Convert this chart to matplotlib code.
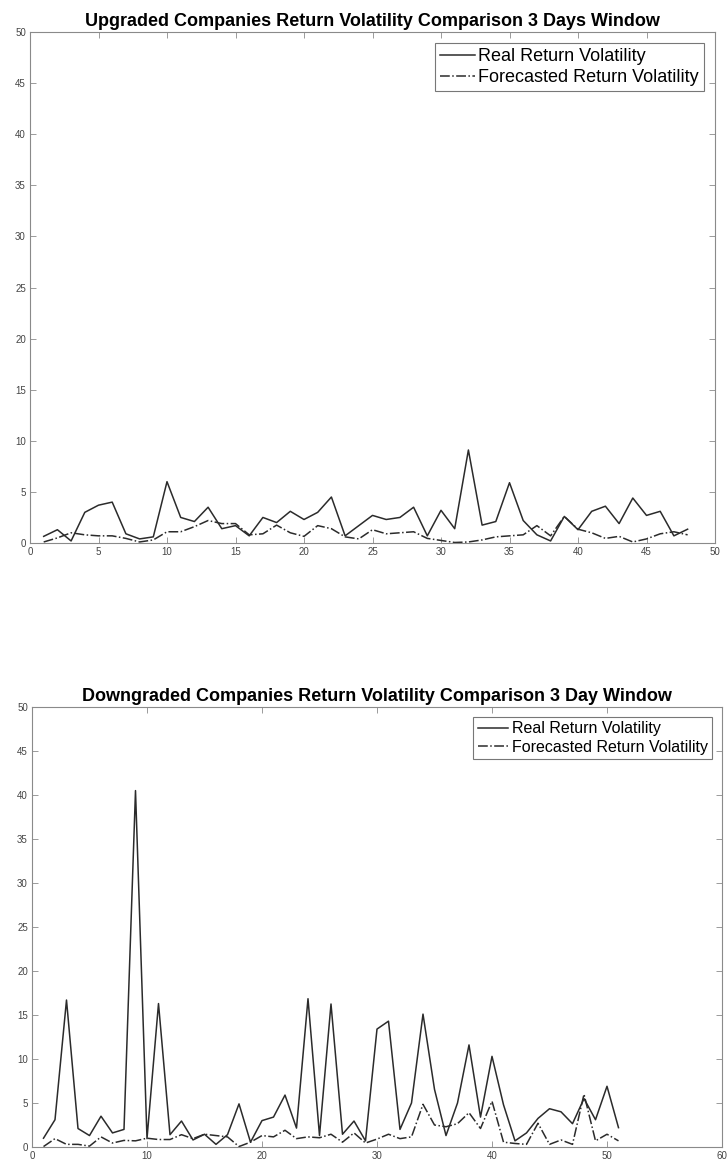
import matplotlib
matplotlib.use("Agg")
import matplotlib.pyplot as plt
import numpy as np

# Upgraded companies (3 days window)
up_real = [0.65, 1.3, 0.2, 3.0, 3.7, 4.0, 0.9, 0.4, 0.6, 6.0,
           2.5, 2.1, 3.5, 1.4, 1.7, 0.7, 2.5, 2.0, 3.1, 2.3,
           3.0, 4.5, 0.7, 1.7, 2.7, 2.3, 2.5, 3.5, 0.7, 3.2,
           1.4, 9.1, 1.75, 2.1, 5.9, 2.2, 0.8, 0.2, 2.6, 1.3,
           3.1, 3.6, 1.9, 4.4, 2.7, 3.1, 0.7, 1.35]
up_fore = [0.1, 0.5, 1.0, 0.8, 0.7, 0.7, 0.45, 0.1, 0.3, 1.1,
           1.1, 1.6, 2.2, 1.9, 1.9, 0.8, 0.9, 1.75, 1.0, 0.65,
           1.7, 1.4, 0.6, 0.4, 1.3, 0.9, 1.0, 1.1, 0.45, 0.25,
           0.05, 0.1, 0.3, 0.6, 0.7, 0.8, 1.7, 0.7, 2.6, 1.35,
           1.0, 0.45, 0.65, 0.1, 0.4, 0.9, 1.1, 0.8]

# Downgraded companies (3 day window)
down_real = [1.0, 3.1, 16.7, 2.1, 1.3, 3.5, 1.6, 2.0, 40.5, 0.95,
             16.3, 1.4, 2.95, 0.8, 1.45, 0.3, 1.4, 4.9, 0.55, 3.0,
             3.4, 5.9, 2.15, 16.85, 1.3, 16.25, 1.45, 2.95, 0.7, 13.4,
             14.3, 2.0, 5.0, 15.1, 6.55, 1.3, 5.0, 11.6, 3.4, 10.3,
             4.8, 0.7, 1.6, 3.25, 4.35, 4.0, 2.65, 5.5, 3.1, 6.9, 2.2]
down_fore = [0.05, 0.95, 0.3, 0.3, 0.1, 1.15, 0.45, 0.75, 0.7, 1.0,
             0.85, 0.85, 1.4, 0.95, 1.45, 1.3, 1.15, 0.05, 0.55, 1.3,
             1.15, 1.9, 0.95, 1.15, 1.05, 1.45, 0.55, 1.6, 0.45, 0.9,
             1.45, 0.95, 1.15, 4.85, 2.5, 2.3, 2.65, 3.9, 2.1, 5.2,
             0.55, 0.4, 0.3, 2.7, 0.3, 0.8, 0.3, 6.0, 0.7, 1.45, 0.7]

titles = ["Upgraded Companies Return Volatility Comparison 3 Days Window",
          "Downgraded Companies Return Volatility Comparison 3 Day Window"]
labels = ["Real Return Volatility", "Forecasted Return Volatility"]

plt.rcParams['font.family'] = ['Liberation Sans', 'DejaVu Sans']

W, H = 728, 1167
fig = plt.figure(figsize=(W / 100, H / 100), dpi=100)

def px_axes(l, t, r, b):
    return fig.add_axes([l / W, 1 - b / H, (r - l) / W, (b - t) / H])

ax1 = px_axes(30, 32, 715, 543)
ax2 = px_axes(32, 707, 722, 1147)

line_col = '#2b2b2b'
spine_col = '#8a8a8a'

def style(ax, xmax, xstep, title, legsize):
    ax.set_xlim(0, xmax)
    ax.set_ylim(0, 50)
    ax.set_xticks(np.arange(0, xmax + 1, xstep))
    ax.set_yticks(np.arange(0, 51, 5))
    ax.tick_params(direction='in', top=True, right=True, length=4,
                   width=0.6, colors=spine_col, labelsize=7,
                   labelcolor='#444444', pad=3)
    for s in ax.spines.values():
        s.set_color(spine_col)
        s.set_linewidth(0.8)
    ax.set_title(title, fontsize=13, fontweight='bold', pad=4)
    leg = ax.legend(loc='upper right', fontsize=legsize, frameon=True,
                    fancybox=False, edgecolor='#555555', borderpad=0.3,
                    handlelength=1.9, handletextpad=0.2, labelspacing=0.2,
                    borderaxespad=0.6)
    leg.get_frame().set_linewidth(0.8)

x1 = np.arange(1, len(up_real) + 1)
ax1.plot(x1, up_real, '-', color=line_col, lw=1.1, label=labels[0])
ax1.plot(x1, up_fore, '-.', color=line_col, lw=1.1, label=labels[1])
style(ax1, 50, 5, titles[0], 13)

x2 = np.arange(1, len(down_real) + 1)
ax2.plot(x2, down_real, '-', color=line_col, lw=1.1, label=labels[0])
ax2.plot(x2, down_fore, '-.', color=line_col, lw=1.1, label=labels[1])
style(ax2, 60, 10, titles[1], 11.5)

fig.savefig("out.png", dpi=100)
